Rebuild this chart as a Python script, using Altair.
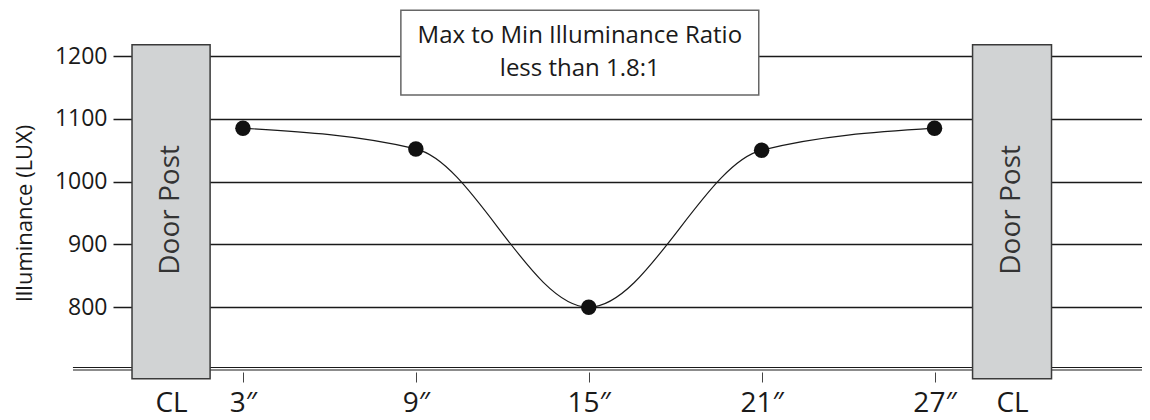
import altair as alt
import pandas as pd

# ---- data ----
positions = [3, 9, 15, 21, 27]             # inches from CL
illuminance = [1085, 1052, 800, 1050, 1085]  # LUX
tick_labels = ["3″", "9″", "15″", "21″", "27″"]
grid_values = [800, 900, 1000, 1100, 1200]
post_x = [-0.85, 28.32]
post_x2 = [1.86, 31.06]
post_y = [686, 686]
post_y2 = [1218, 1218]
post_label = ["Door Post", "Door Post"]
cl_label = "CL"
note_lines = ["Max to Min Illuminance Ratio", "less than 1.8:1"]
note_x, note_x2, note_y, note_y2 = 8.48, 20.9, 1138, 1273
baseline_x, baseline_x2, baseline_y = -2.9, 34.2, 700

X_DOMAIN = [-1.51, 34.2]
Y_DOMAIN = [700, 1200]
FONT = "Open Sans"
INK = "#1a1a1a"

post_centers = [(a + b) / 2 for a, b in zip(post_x, post_x2)]
axis_values = [post_centers[0]] + positions + [post_centers[1]]
expr = f"'{cl_label}'"
for p, lab in zip(positions, tick_labels):
    expr = f"datum.value == {p} ? '{lab}' : ({expr})"
tick_test = " || ".join(f"abs(datum.value - {c}) < 0.001" for c in post_centers)

pts = pd.DataFrame({"x": positions, "y": illuminance})
posts = pd.DataFrame({"x": post_x, "x2": post_x2, "y": post_y, "y2": post_y2,
                      "label": post_label, "cx": post_centers})
base_df = pd.DataFrame({"x": [baseline_x], "x2": [baseline_x2], "y": [baseline_y]})
note_df = pd.DataFrame({"x": [note_x], "x2": [note_x2], "y": [note_y], "y2": [note_y2],
                        "cx": [(note_x + note_x2) / 2], "ty": [1220],
                        "text": [note_lines]})

xs = alt.Scale(domain=X_DOMAIN, nice=False, zero=False)
ys = alt.Scale(domain=Y_DOMAIN, nice=False, zero=False)

x_axis = alt.Axis(values=axis_values, labelExpr=expr, title=None, domain=False, grid=False,
                  offset=2, tickSize=10, tickColor="#444444", tickWidth=1,
                  tickOpacity={"condition": {"test": tick_test, "value": 0}, "value": 1},
                  labelFont=FONT, labelFontSize=28, labelColor=INK, labelPadding=7,
                  labelFlush=False, labelOverlap=False)
y_axis = alt.Axis(values=grid_values, format="d", title="Illuminance (LUX)", domain=False,
                  ticks=False, grid=True, gridColor=INK, gridWidth=1.6, labelFont=FONT,
                  labelFontSize=23, labelColor=INK, labelPadding=6, titleFont=FONT,
                  titleFontSize=22, titleFontWeight="normal", titleColor=INK, titlePadding=18)

line = alt.Chart(pts).mark_line(interpolate="monotone", color=INK, strokeWidth=1.2).encode(
    x=alt.X("x:Q", scale=xs, axis=x_axis),
    y=alt.Y("y:Q", scale=ys, axis=y_axis),
)
dots = alt.Chart(pts).mark_circle(size=240, color="#111111", opacity=1).encode(
    x=alt.X("x:Q", scale=xs), y=alt.Y("y:Q", scale=ys))

base1 = alt.Chart(base_df).mark_rule(color=INK, strokeWidth=1.1).encode(
    x=alt.X("x:Q", scale=xs), x2="x2:Q", y=alt.Y("y:Q", scale=ys))
base2 = alt.Chart(base_df).mark_rule(color=INK, strokeWidth=1.1, yOffset=-2.5).encode(
    x=alt.X("x:Q", scale=xs), x2="x2:Q", y=alt.Y("y:Q", scale=ys))

post_rect = alt.Chart(posts).mark_rect(fill="#d1d3d4", stroke="#3a3a3a", strokeWidth=1.5).encode(
    x=alt.X("x:Q", scale=xs), x2="x2:Q", y=alt.Y("y:Q", scale=ys), y2="y2:Q")
post_text = alt.Chart(posts).mark_text(angle=270, font=FONT, fontSize=28, color="#333333",
                                       align="center", baseline="middle").encode(
    x=alt.X("cx:Q", scale=xs), y=alt.Y("mid:Q", scale=ys), text="label:N"
).transform_calculate(mid="(datum.y + datum.y2) / 2 + 3")

note_box = alt.Chart(note_df).mark_rect(fill="white", stroke="#666666", strokeWidth=1.5).encode(
    x=alt.X("x:Q", scale=xs), x2="x2:Q", y=alt.Y("y:Q", scale=ys), y2="y2:Q")
note_text = alt.Chart(note_df).mark_text(font=FONT, fontSize=24, color=INK, align="center",
                                         baseline="alphabetic", lineHeight=33).encode(
    x=alt.X("cx:Q", scale=xs), y=alt.Y("ty:Q", scale=ys), text="text")

chart = alt.layer(line, base1, base2, dots, post_rect, post_text, note_box, note_text).properties(
    width=1029, height=314, autosize="none", background="white",
    padding={"left": 105, "top": 48, "right": 0, "bottom": 56},
).configure_view(stroke=None)

chart.save("out.html", embed_options={"renderer": "svg", "actions": False})
